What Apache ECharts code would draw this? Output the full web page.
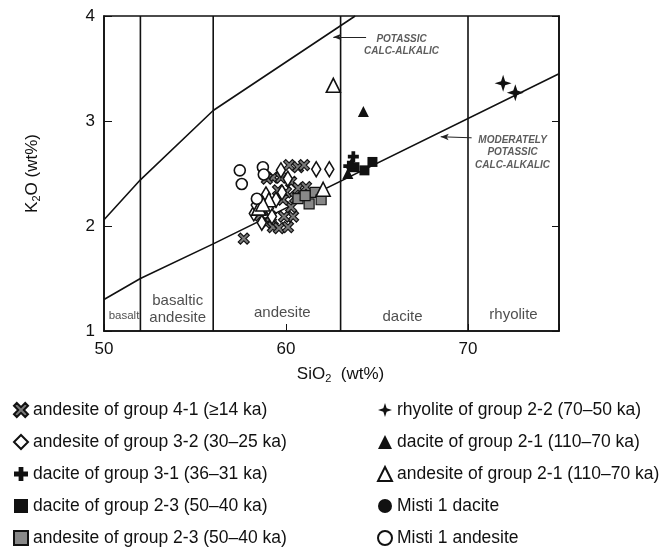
<!DOCTYPE html>
<html><head><meta charset="utf-8">
<script src="https://cdn.jsdelivr.net/npm/echarts@6/dist/echarts.min.js"></script>
<style>html,body{margin:0;padding:0;background:#fff}#c{width:669px;height:559px}</style>
</head><body><div id="c"></div>
<script>
// ---- data (SiO2 wt%, K2O wt%) ----
const xTicks = [50, 60, 70];
const yTicks = [1, 2, 3, 4];
const fieldBoundaries = [52, 56, 63, 70];
const upperLine = [[50, 2.06], [52, 2.44], [56, 3.10], [63.8, 4.0]];
const lowerLine = [[50, 1.30], [52, 1.50], [56, 1.83], [75, 3.45]];

const andesite41 = [[57.68,1.88],[60.17,2.58],[60.66,2.56],[60.99,2.58],[59.28,2.46],[59.72,2.46],[60.28,2.42],[60.66,2.36],[61.10,2.37],[59.56,2.34],[60.0,2.32],[58.9,2.03],[59.28,1.99],[59.61,1.98],[60.11,1.99],[60.39,2.09],[59.89,2.09],[60.28,2.18],[59.17,2.09],[58.56,2.10],[59.83,2.25],[58.95,2.45],[60.5,2.27]];
const andesite32 = [[58.23,2.12],[58.34,2.20],[59.06,2.17],[59.45,2.25],[59.78,2.32],[59.72,2.53],[59.23,2.09],[58.67,2.03],[61.66,2.54],[62.38,2.54],[58.9,2.30],[60.1,2.45]];
const dacite31 = [[63.7,2.66],[63.45,2.57]];
const dacite23 = [[63.76,2.56],[64.31,2.53],[64.75,2.61]];
const andesite23 = [[60.66,2.26],[61.27,2.21],[61.60,2.32],[61.93,2.25],[61.05,2.29]];
const rhyolite22 = [[71.93,3.36],[72.6,3.27]];
const dacite21 = [[64.25,3.09],[63.4,2.50],[63.6,2.60]];
const andesite21 = [[62.6,3.34],[62.04,2.35],[59.06,2.25],[58.5,2.17],[58.73,2.21]];
const misti1Dacite = [];
const misti1Andesite = [[57.46,2.53],[57.57,2.40],[58.73,2.56],[58.78,2.49],[58.40,2.26]];

const fieldNames = ['basalt', 'basaltic\nandesite', 'andesite', 'dacite', 'rhyolite'];
const fieldLabelAt = [[51.1,1.14],[54.05,1.21],[59.8,1.17],[66.4,1.13],[72.5,1.15]];
const seriesNames = ['andesite of group 4-1 (≥14 ka)','andesite of group 3-2 (30–25 ka)','dacite of group 3-1 (36–31 ka)','dacite of group 2-3 (50–40 ka)','andesite of group 2-3 (50–40 ka)','rhyolite of group 2-2 (70–50 ka)','dacite of group 2-1 (110–70 ka)','andesite of group 2-1 (110–70 ka)','Misti 1 dacite','Misti 1 andesite'];

const X_PATH = 'path://M2,0 L5,3 L8,0 L10,2 L7,5 L10,8 L8,10 L5,7 L2,10 L0,8 L3,5 L0,2 Z';
const PLUS_PATH = 'path://M3.3,0 H6.7 V3.3 H10 V6.7 H6.7 V10 H3.3 V6.7 H0 V3.3 H3.3 Z';
const STAR_PATH = 'path://M5,0 L6.2,3.8 L10,5 L6.2,6.2 L5,10 L3.8,6.2 L0,5 L3.8,3.8 Z';

const K = '#111';
function sc(name, data, symbol, size, fill, border, bw) {
  return {name, type:'scatter', data, symbol, symbolSize:size, z:5,
    itemStyle:{color:fill, borderColor:border, borderWidth:bw, opacity:1}};
}
function lineS(data, z) {
  return {type:'line', data, symbol:'none', silent:true, z:z||2,
    lineStyle:{color:K, width:1.6}, legendHoverLink:false};
}

const series = [];
fieldBoundaries.forEach(b => series.push(lineS([[b, 1], [b, 4]])));
series.push(lineS(upperLine));
series.push(lineS(lowerLine));
series.push(sc(seriesNames[0], andesite41, X_PATH, 11, '#7a7a7a', '#111', 1.2));
series.push(sc(seriesNames[1], andesite32, 'diamond', [9, 15], '#fff', K, 1.6));
series.push(sc(seriesNames[2], dacite31, PLUS_PATH, 11, K, K, 0));
series.push(sc(seriesNames[3], dacite23, 'rect', 10, K, K, 0));
series.push(sc(seriesNames[4], andesite23, 'rect', 10, '#888', '#111', 1.2));
series.push(sc(seriesNames[5], rhyolite22, STAR_PATH, 17, K, K, 0));
series.push(sc(seriesNames[6], dacite21, 'triangle', 11, K, K, 0));
series.push(sc(seriesNames[7], andesite21, 'triangle', 14, '#fff', K, 1.6));
series.push(sc(seriesNames[8], misti1Dacite, 'circle', 11, K, K, 0));
series.push(sc(seriesNames[9], misti1Andesite, 'circle', 11, '#fff', K, 1.6));

const font = 'Liberation Sans, Arial, sans-serif';

// field labels
const fieldSeries = {type:'scatter', silent:true, symbolSize:0, z:3,
  data: fieldNames.map((n,i)=>({name:n, value:fieldLabelAt[i]})),
  label:{show:true, position:'inside', color:'#222', fontFamily:font,
    fontSize:15, lineHeight:17, formatter:p=>p.name},
  labelLayout:{hideOverlap:false}
};
fieldSeries.data[0].label = {fontSize:11.5};
series.push(fieldSeries);

// annotations
const annotText = ['POTASSIC\nCALC-ALKALIC', 'MODERATELY\nPOTASSIC\nCALC-ALKALIC'];
const annotAt = [[66.35, 3.72], [72.45, 2.70]];
series.push({type:'scatter', silent:true, symbolSize:0, z:3,
  data: annotText.map((n,i)=>({name:n, value:annotAt[i]})),
  label:{show:true, position:'inside', color:'#333', fontStyle:'italic', fontWeight:'bold',
    fontFamily:font, fontSize:10, lineHeight:12.5, formatter:p=>p.name},
  markLine:{silent:true, symbol:['none','arrow'], symbolSize:[5,8], label:{show:false},
    lineStyle:{color:'#222', width:1, type:'solid'},
    data:[[{coord:[64.4,3.80]},{coord:[62.6,3.80]}],[{coord:[70.2,2.84]},{coord:[68.5,2.85]}]]}
});

const legendCommon = {orient:'vertical', itemWidth:14, itemHeight:14, itemGap:14,
  textStyle:{fontFamily:font, fontSize:17.5, color:'#111', lineHeight:18}, selectedMode:false};

const nameRich = {a:{fontFamily:font, fontSize:17, color:'#111'}, s:{fontFamily:font, fontSize:11, color:'#111', padding:[8,0,0,0]}};

const chart = echarts.init(document.getElementById('c'), null, {renderer:'canvas'});
chart.setOption({
  animation:false,
  backgroundColor:'#fff',
  grid:{left:104, right:110, top:16, bottom:228, show:true, borderColor:K, borderWidth:1.6, backgroundColor:'transparent'},
  xAxis:{type:'value', min:50, max:75, interval:10,
    name:'{a|SiO}{s|2}{a|  (wt%)}', nameLocation:'middle', nameGap:34,
    nameTextStyle:{rich:nameRich, padding:[0,0,0,18]},
    axisLine:{show:true, lineStyle:{color:K, width:1.6}},
    axisTick:{show:true, inside:true, length:7, lineStyle:{color:K, width:1}},
    axisLabel:{fontFamily:font, fontSize:17, color:'#111', margin:10,
      formatter:v => xTicks.includes(v) ? String(v) : ''},
    splitLine:{show:false}},
  yAxis:[{type:'value', min:1, max:4, interval:1,
    name:'{a|K}{s|2}{a|O (wt%)}', nameLocation:'middle', nameGap:62, nameRotate:90,
    nameTextStyle:{rich:nameRich},
    axisLine:{show:true, lineStyle:{color:K, width:1.6}},
    axisTick:{show:true, inside:true, length:8, lineStyle:{color:K, width:1}},
    axisLabel:{fontFamily:font, fontSize:17, color:'#111', margin:9,
      formatter:v => yTicks.includes(v) ? String(v) : ''},
    splitLine:{show:false}},
   {type:'value', min:1, max:4, interval:1, position:'right',
    axisLine:{show:true, lineStyle:{color:K, width:1.6}},
    axisTick:{show:true, inside:true, length:7, lineStyle:{color:K, width:1}},
    axisLabel:{show:false}, splitLine:{show:false}}],
  legend:[
    Object.assign({left:8, top:396, data:seriesNames.slice(0,5)}, legendCommon),
    Object.assign({left:372, top:396, data:seriesNames.slice(5)}, legendCommon)
  ],
  series
});
</script></body></html>
